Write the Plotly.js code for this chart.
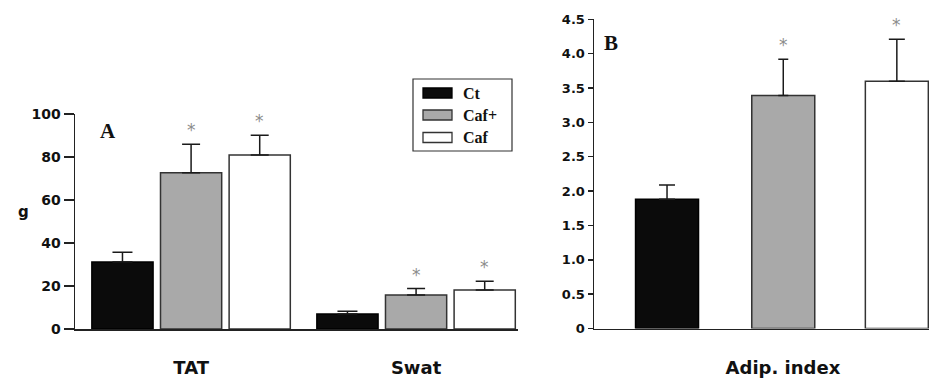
<!DOCTYPE html>
<html>
<head>
<meta charset="utf-8">
<script src="https://cdn.plot.ly/plotly-3.0.1.min.js"></script>
<style>
  html, body { margin: 0; padding: 0; background: #ffffff; }
  #chart { width: 929px; height: 381px; }
</style>
</head>
<body>
<div id="chart"></div>
<script>
// Diet groups (legend order)
const groups = ['Ct', 'Caf+', 'Caf'];
const groupFill = ['#0b0b0b', '#a9a9a9', '#ffffff'];

// Panel A: fat depot mass (g), mean + SEM
const depots = ['TAT', 'Swat'];
const ctMass = [31.2, 7.0];
const ctMassSem = [4.5, 1.2];
const cafPlusMass = [72.7, 15.8];
const cafPlusMassSem = [13.2, 3.0];
const cafMass = [80.9, 18.1];
const cafMassSem = [9.2, 4.1];

// Panel B: adiposity index, mean + SEM
const indexLabel = ['Adip. index'];
const ctIndex = [1.88];
const ctIndexSem = [0.21];
const cafPlusIndex = [3.39];
const cafPlusIndexSem = [0.53];
const cafIndex = [3.60];
const cafIndexSem = [0.61];

// Groups flagged as significantly different from control
const significant = [false, true, true];

// Axis ticks
const gramTicks = [0, 20, 40, 60, 80, 100];
const indexTicks = [0, 0.5, 1.0, 1.5, 2.0, 2.5, 3.0, 3.5, 4.0, 4.5];
const indexTickText = ['0', '0.5', '1.0', '1.5', '2.0', '2.5', '3.0', '3.5', '4.0', '4.5'];

const massSeries = [[ctMass, ctMassSem], [cafPlusMass, cafPlusMassSem], [cafMass, cafMassSem]];
const indexSeries = [[ctIndex, ctIndexSem], [cafPlusIndex, cafPlusIndexSem], [cafIndex, cafIndexSem]];

// Bar placement inside each category slot (category units)
const slotA = { width: 0.272, centers: [-0.305, 0, 0.305] };
const slotB = { width: 0.188, centers: [-0.346, 0.001, 0.340] };
const capA = [10, 9, 9];
const capB = [8, 5, 8];

const axisColor = '#222222';
const sansBold = { family: 'DejaVu Sans, Arial, sans-serif', weight: 'bold', color: '#111111' };
const serifBold = { family: 'Liberation Serif, Times New Roman, serif', weight: 'bold', color: '#111111' };

function barTrace(cats, vals, sem, i, slot, caps, xa, ya) {
  return {
    type: 'bar',
    name: groups[i],
    x: cats,
    y: vals,
    xaxis: xa,
    yaxis: ya,
    width: slot.width,
    offset: slot.centers[i] - slot.width / 2,
    marker: { color: groupFill[i], line: { color: i === 0 ? '#000000' : '#333333', width: 1.5 } },
    error_y: {
      type: 'data', array: sem, arrayminus: sem.map(() => 0), symmetric: false,
      color: '#1a1a1a', thickness: 1.5, width: caps[i]
    },
    showlegend: false,
    hoverinfo: 'skip'
  };
}

const traces = [];
massSeries.forEach((s, i) => traces.push(barTrace(depots, s[0], s[1], i, slotA, capA, 'x', 'y')));
indexSeries.forEach((s, i) => traces.push(barTrace(indexLabel, s[0], s[1], i, slotB, capB, 'x2', 'y2')));

// Significance asterisks above the error bars
const annotations = [];
function addStars(cats, series, slot, xref, yref) {
  series.forEach((s, i) => {
    if (!significant[i]) return;
    cats.forEach((c, k) => {
      annotations.push({
        xref: xref, yref: yref,
        x: k + slot.centers[i], y: s[0][k] + s[1][k],
        text: '*', showarrow: false, yanchor: 'bottom', yshift: 2,
        font: { family: 'DejaVu Sans, sans-serif', size: 17, color: '#8c8c8c' }
      });
    });
  });
}
addStars(depots, massSeries, slotA, 'x', 'y');
addStars(indexLabel, indexSeries, slotB, 'x2', 'y2');

// Panel letters and the unit label
annotations.push({ xref: 'paper', yref: 'paper', x: 98 / 929, y: 1 - 131 / 381, text: 'A',
  showarrow: false, font: Object.assign({ size: 21 }, serifBold) });
annotations.push({ xref: 'paper', yref: 'paper', x: 620 / 929, y: 1 - 29 / 381, text: 'B',
  showarrow: false, font: Object.assign({ size: 21 }, serifBold) });
annotations.push({ xref: 'paper', yref: 'paper', x: 16 / 929, y: 1 - 212 / 381, text: 'g',
  showarrow: false, font: Object.assign({ size: 15 }, sansBold) });

// Legend box built from the group names
const shapes = [];
const legendBox = { x0: 413, x1: 512, y0: 79, y1: 151 };
const legendRows = [93, 115, 137.5];
shapes.push({ type: 'rect', xref: 'paper', yref: 'paper',
  x0: legendBox.x0 / 929, x1: legendBox.x1 / 929, y0: 1 - legendBox.y1 / 381, y1: 1 - legendBox.y0 / 381,
  line: { color: '#333333', width: 1.2 }, fillcolor: 'rgba(0,0,0,0)' });
groups.forEach((g, i) => {
  const yc = legendRows[i];
  shapes.push({ type: 'rect', xref: 'paper', yref: 'paper',
    x0: 423 / 929, x1: 452 / 929, y0: 1 - (yc + 5) / 381, y1: 1 - (yc - 5) / 381,
    line: { color: i === 0 ? '#000000' : '#333333', width: 1.3 }, fillcolor: groupFill[i] });
  annotations.push({ xref: 'paper', yref: 'paper', x: 461 / 929, y: 1 - yc / 381,
    xanchor: 'left', yanchor: 'middle', text: g, showarrow: false,
    font: Object.assign({ size: 16 }, serifBold) });
});

const catAxis = {
  type: 'category', showline: true, linecolor: axisColor, linewidth: 1.5,
  ticks: 'outside', ticklen: 22, tickcolor: 'rgba(0,0,0,0)',
  tickfont: Object.assign({ size: 18 }, sansBold),
  showgrid: false, zeroline: false, fixedrange: true
};
const valAxis = {
  showline: true, linecolor: axisColor, linewidth: 1.5,
  ticks: 'outside', tickcolor: axisColor, tickwidth: 1.5,
  showgrid: false, zeroline: false, fixedrange: true
};

const layout = {
  width: 929, height: 381,
  margin: { l: 0, r: 0, t: 0, b: 0 },
  paper_bgcolor: '#ffffff', plot_bgcolor: 'rgba(0,0,0,0)',
  barmode: 'overlay',
  showlegend: false,
  xaxis: Object.assign({}, catAxis, { domain: [75 / 929, 518 / 929], range: [-0.516, 1.453], anchor: 'y' }),
  yaxis: Object.assign({}, valAxis, {
    domain: [1 - 329 / 381, 1 - 114 / 381], range: [0, 100], anchor: 'x',
    tickvals: gramTicks, ticklen: 10, tickfont: Object.assign({ size: 14 }, sansBold)
  }),
  xaxis2: Object.assign({}, catAxis, { domain: [594 / 929, 1], range: [-0.564, 0.436], anchor: 'y2' }),
  yaxis2: Object.assign({}, valAxis, {
    domain: [1 - 328.5 / 381, 1 - 19.3 / 381], range: [0, 4.5], anchor: 'x2',
    tickvals: indexTicks, ticktext: indexTickText, ticklen: 5,
    tickfont: Object.assign({ size: 13 }, sansBold)
  }),
  shapes: shapes,
  annotations: annotations
};

Plotly.newPlot('chart', traces, layout, { displayModeBar: false, staticPlot: true });
</script>
</body>
</html>
